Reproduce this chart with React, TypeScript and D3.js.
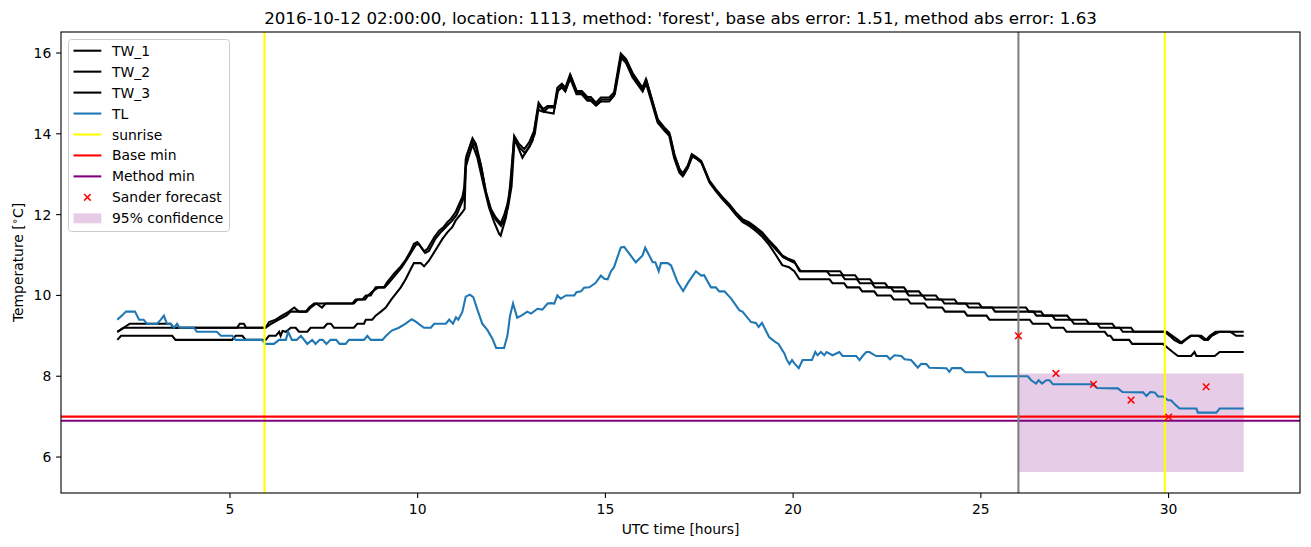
import React from "react";
import * as d3 from "d3";

// ---------------- data ----------------
const xTicks = [5, 10, 15, 20, 25, 30];
const yTicks = [6, 8, 10, 12, 14, 16];

const tw1: [number, number][] = [
  [2.0,9.1],[2.17,9.2],[2.33,9.3],[3.42,9.3],[3.5,9.2],[5.19,9.2],[5.26,9.3],[5.37,9.3],[5.43,9.2],[5.95,9.2],
  [6.04,9.34],[6.22,9.4],[6.35,9.48],[6.57,9.6],[6.71,9.7],[6.84,9.6],[7.02,9.6],[7.11,9.7],[7.24,9.8],[8.26,9.8],
  [8.35,9.9],[8.53,9.9],[8.62,10.0],[8.75,10.0],[8.88,10.2],[9.1,10.2],[9.19,10.33],[9.37,10.54],[9.55,10.72],[9.68,10.88],
  [9.82,11.11],[9.9,11.28],[9.99,11.32],[10.17,11.09],[10.26,11.15],[10.44,11.44],[10.57,11.6],[10.7,11.7],[10.79,11.81],[10.88,11.89],
  [11.01,12.06],[11.1,12.25],[11.19,12.44],[11.24,12.67],[11.28,13.37],[11.46,13.89],[11.55,13.75],[11.68,13.25],[11.81,12.59],[11.95,12.14],
  [12.08,11.93],[12.21,11.79],[12.3,11.98],[12.39,12.26],[12.48,12.75],[12.57,13.95],[12.7,13.75],[12.84,13.62],[12.97,13.79],[13.1,14.07],
  [13.22,14.77],[13.34,14.61],[13.46,14.69],[13.64,14.69],[13.72,15.14],[13.84,15.24],[13.93,15.14],[14.06,15.47],[14.23,15.06],[14.37,15.06],
  [14.52,14.91],[14.61,14.91],[14.75,14.77],[14.88,14.9],[15.1,14.9],[15.23,15.02],[15.41,15.99],[15.55,15.85],[15.72,15.51],[15.99,15.14],
  [16.08,15.35],[16.21,14.94],[16.39,14.36],[16.57,14.16],[16.7,14.03],[16.83,13.5],[16.97,13.13],[17.06,13.02],[17.19,13.21],[17.3,13.5],
  [17.44,13.41],[17.55,13.33],[17.77,12.84],[17.94,12.63],[18.12,12.43],[18.3,12.26],[18.47,12.06],[18.65,11.89],[18.83,11.81],[19.0,11.69],
  [19.18,11.56],[19.36,11.36],[19.54,11.19],[19.71,10.99],[19.89,10.9],[20.03,10.85],[20.17,10.6],[21.25,10.6],[21.33,10.5],[21.65,10.5],
  [21.73,10.4],[22.05,10.4],[22.13,10.3],[22.45,10.3],[22.53,10.2],[22.95,10.2],[23.03,10.1],[23.35,10.1],[23.43,10.0],[23.8,10.0],
  [23.88,9.9],[24.3,9.9],[24.38,9.8],[24.95,9.8],[25.03,9.7],[26.2,9.7],[26.28,9.6],[26.6,9.6],[26.68,9.5],[27.3,9.5],
  [27.38,9.4],[27.8,9.4],[27.88,9.3],[28.5,9.3],[28.58,9.2],[29.0,9.2],[29.08,9.1],[29.9,9.1],[30.03,9.0],[30.15,8.9],
  [30.3,8.82],[30.43,8.9],[30.58,9.0],[30.87,9.0],[31.0,8.9],[31.1,9.0],[31.25,9.1],[32.0,9.1],
];

const tw2: [number, number][] = [
  [2.0,9.1],[2.17,9.2],[5.95,9.2],[6.1,9.3],[6.3,9.4],[6.5,9.5],[6.62,9.6],[7.05,9.6],[7.15,9.7],[7.3,9.8],
  [7.45,9.7],[7.55,9.8],[8.3,9.8],[8.4,9.9],[8.6,9.9],[8.68,10.0],[8.8,10.1],[8.95,10.2],[9.12,10.2],[9.22,10.3],
  [9.4,10.5],[9.58,10.7],[9.72,10.9],[9.85,11.1],[9.95,11.25],[10.03,11.28],[10.2,11.05],[10.3,11.1],[10.47,11.4],[10.6,11.55],
  [10.72,11.66],[10.82,11.76],[10.92,11.85],[11.04,12.0],[11.13,12.2],[11.22,12.4],[11.26,12.8],[11.3,13.45],[11.44,13.82],[11.55,13.68],
  [11.7,13.15],[11.83,12.5],[11.97,12.05],[12.1,11.85],[12.22,11.72],[12.32,11.9],[12.41,12.2],[12.5,12.7],[12.58,13.85],[12.72,13.65],
  [12.86,13.52],[12.99,13.7],[13.12,14.0],[13.23,14.72],[13.36,14.55],[13.48,14.65],[13.65,14.65],[13.74,15.08],[13.86,15.2],[13.95,15.1],
  [14.08,15.42],[14.25,15.02],[14.39,15.0],[14.54,14.86],[14.63,14.85],[14.77,14.72],[14.9,14.85],[15.12,14.85],[15.25,14.98],[15.43,15.92],
  [15.57,15.8],[15.74,15.45],[16.0,15.08],[16.1,15.3],[16.23,14.88],[16.41,14.3],[16.59,14.1],[16.72,13.97],[16.85,13.44],[16.99,13.08],
  [17.08,12.98],[17.2,13.17],[17.32,13.45],[17.46,13.36],[17.57,13.28],[17.79,12.78],[17.96,12.58],[18.14,12.38],[18.32,12.2],[18.49,12.0],
  [18.67,11.85],[18.85,11.76],[19.02,11.64],[19.2,11.5],[19.38,11.3],[19.56,11.12],[19.73,10.95],[19.91,10.86],[20.05,10.8],[20.2,10.6],
  [20.9,10.6],[20.98,10.5],[21.3,10.5],[21.38,10.4],[21.7,10.4],[21.78,10.3],[22.1,10.3],[22.18,10.2],[22.6,10.2],[22.68,10.1],
  [23.0,10.1],[23.08,10.0],[23.45,10.0],[23.53,9.9],[23.95,9.9],[24.03,9.8],[24.6,9.8],[24.68,9.7],[25.3,9.7],[25.38,9.6],
  [26.4,9.6],[26.48,9.5],[26.9,9.5],[26.98,9.4],[27.4,9.4],[27.48,9.3],[28.1,9.3],[28.18,9.2],[28.7,9.2],[28.78,9.1],
  [29.95,9.1],[30.1,9.0],[30.25,8.9],[30.35,8.82],[30.45,8.9],[30.6,9.0],[30.8,9.0],[30.95,8.9],[31.05,8.9],[31.15,9.0],
  [31.35,9.1],[31.65,9.1],[31.8,9.0],[32.0,9.0],
];

const tw3: [number, number][] = [
  [2.0,8.9],[2.1,9.0],[3.46,9.0],[3.55,8.9],[5.06,8.9],[5.15,9.0],[5.33,9.0],[5.42,8.9],[5.95,8.9],[6.04,9.0],
  [6.22,9.0],[6.31,9.1],[6.35,9.0],[6.4,9.12],[6.49,9.1],[6.62,9.2],[6.75,9.2],[6.84,9.1],[7.06,9.1],[7.15,9.2],
  [7.5,9.2],[7.59,9.3],[7.69,9.3],[7.77,9.2],[8.3,9.2],[8.39,9.3],[8.57,9.3],[8.62,9.4],[8.79,9.4],[8.88,9.5],
  [9.02,9.6],[9.15,9.7],[9.3,9.9],[9.55,10.2],[9.68,10.4],[9.82,10.66],[9.9,10.8],[10.08,10.8],[10.17,10.72],[10.3,10.86],
  [10.44,11.07],[10.66,11.4],[10.79,11.56],[10.92,11.69],[11.01,11.85],[11.19,12.06],[11.25,12.14],[11.28,13.17],[11.35,13.41],[11.46,13.73],
  [11.59,13.41],[11.77,12.67],[11.9,12.18],[12.04,11.81],[12.17,11.52],[12.21,11.48],[12.35,11.93],[12.43,12.39],[12.57,13.9],[12.79,13.41],
  [13.06,13.83],[13.2,14.6],[13.32,14.55],[13.62,14.5],[13.72,15.05],[13.84,15.15],[13.93,15.05],[14.06,15.38],[14.23,14.98],[14.37,14.98],
  [14.52,14.82],[14.61,14.82],[14.75,14.7],[14.88,14.8],[15.1,14.8],[15.23,14.95],[15.41,15.9],[15.55,15.75],[15.72,15.4],[15.99,15.05],
  [16.08,15.25],[16.21,14.85],[16.39,14.28],[16.57,14.08],[16.7,13.95],[16.83,13.4],[16.97,13.04],[17.06,12.95],[17.19,13.15],[17.3,13.45],
  [17.44,13.38],[17.55,13.3],[17.77,12.8],[17.94,12.58],[18.12,12.38],[18.3,12.2],[18.47,12.0],[18.65,11.82],[18.83,11.72],[19.0,11.6],
  [19.18,11.45],[19.36,11.25],[19.54,11.0],[19.71,10.75],[19.89,10.7],[20.03,10.6],[20.17,10.4],[20.97,10.4],[21.05,10.3],[21.36,10.3],
  [21.44,10.2],[21.76,10.2],[21.84,10.1],[22.16,10.1],[22.24,10.0],[22.6,10.0],[22.68,9.9],[23.05,9.9],[23.13,9.8],[23.5,9.8],
  [23.58,9.7],[23.97,9.7],[24.05,9.6],[24.56,9.6],[24.64,9.5],[25.15,9.5],[25.23,9.4],[26.3,9.4],[26.38,9.3],[26.8,9.3],
  [26.88,9.2],[27.2,9.2],[27.28,9.1],[28.3,9.1],[28.38,9.0],[28.45,9.0],[28.53,8.9],[28.95,8.9],[29.03,8.8],[29.85,8.8],
  [29.98,8.7],[30.11,8.6],[30.25,8.5],[30.6,8.5],[30.69,8.6],[30.74,8.5],[31.23,8.5],[31.36,8.6],[32.0,8.6],
];

const tl: [number, number][] = [
  [2.0,9.4],[2.12,9.5],[2.23,9.6],[2.47,9.6],[2.58,9.4],[2.7,9.4],[2.79,9.3],[3.06,9.3],[3.16,9.4],[3.24,9.5],
  [3.32,9.3],[3.42,9.3],[3.51,9.2],[3.59,9.3],[3.66,9.2],[4.04,9.2],[4.12,9.1],[4.65,9.1],[4.76,9.0],[5.06,9.0],
  [5.15,8.9],[5.85,8.9],[5.95,8.8],[6.17,8.8],[6.31,8.9],[6.49,8.9],[6.55,9.1],[6.65,8.9],[6.78,8.9],[6.89,9.0],
  [7.06,8.8],[7.19,8.9],[7.28,8.8],[7.39,8.9],[7.47,8.9],[7.57,8.8],[7.68,8.9],[7.83,8.9],[7.92,8.8],[8.08,8.8],
  [8.17,8.9],[8.57,8.9],[8.66,9.0],[8.75,8.9],[9.06,8.9],[9.16,9.0],[9.31,9.13],[9.5,9.2],[9.68,9.3],[9.84,9.41],
  [9.95,9.35],[10.08,9.26],[10.17,9.2],[10.35,9.2],[10.44,9.3],[10.75,9.3],[10.84,9.4],[10.94,9.3],[11.02,9.46],[11.08,9.4],
  [11.19,9.59],[11.28,9.97],[11.39,10.02],[11.48,9.96],[11.59,9.65],[11.72,9.3],[11.86,9.14],[11.99,8.93],[12.09,8.7],[12.3,8.7],
  [12.39,9.0],[12.46,9.5],[12.54,9.8],[12.65,9.45],[12.76,9.5],[12.92,9.6],[13.02,9.55],[13.19,9.67],[13.32,9.65],[13.46,9.8],
  [13.55,9.81],[13.64,9.8],[13.72,10.0],[13.81,9.92],[13.95,10.0],[14.17,10.0],[14.23,10.08],[14.35,10.1],[14.43,10.19],[14.57,10.2],
  [14.73,10.3],[14.88,10.49],[14.97,10.41],[15.06,10.4],[15.15,10.6],[15.23,10.7],[15.41,11.19],[15.5,11.2],[15.81,10.82],[15.99,10.99],
  [16.06,11.18],[16.26,10.82],[16.33,10.82],[16.42,10.6],[16.48,10.8],[16.66,10.8],[16.75,10.74],[16.92,10.33],[17.07,10.11],[17.21,10.33],
  [17.41,10.6],[17.55,10.49],[17.63,10.5],[17.81,10.2],[17.94,10.2],[18.03,10.1],[18.17,10.1],[18.35,9.92],[18.57,9.63],[18.65,9.6],
  [18.88,9.34],[19.01,9.32],[19.08,9.22],[19.17,9.32],[19.36,8.97],[19.52,8.85],[19.61,8.8],[19.77,8.56],[19.83,8.41],[19.9,8.3],
  [19.97,8.4],[20.05,8.3],[20.15,8.2],[20.25,8.4],[20.5,8.4],[20.59,8.6],[20.65,8.52],[20.74,8.6],[20.83,8.52],[20.89,8.6],
  [21.05,8.52],[21.23,8.6],[21.32,8.5],[21.68,8.5],[21.77,8.4],[21.85,8.5],[21.95,8.6],[22.03,8.6],[22.21,8.5],[22.5,8.5],
  [22.58,8.42],[22.7,8.52],[22.88,8.5],[22.97,8.42],[23.14,8.4],[23.23,8.31],[23.32,8.21],[23.41,8.31],[23.55,8.3],[23.63,8.21],
  [24.08,8.2],[24.16,8.11],[24.23,8.2],[24.47,8.2],[24.59,8.1],[25.1,8.1],[25.18,8.0],[26.25,8.0],[26.34,7.9],[26.47,7.82],
  [26.54,7.9],[26.63,7.82],[26.74,7.9],[26.83,7.9],[26.92,7.8],[27.98,7.8],[28.09,7.71],[28.65,7.7],[28.77,7.61],[29.32,7.6],
  [29.41,7.51],[29.51,7.61],[29.63,7.6],[29.72,7.5],[29.85,7.5],[29.98,7.41],[30.07,7.4],[30.16,7.31],[30.29,7.2],[30.74,7.2],
  [30.78,7.1],[31.27,7.1],[31.36,7.2],[32.0,7.2],
];

const sunriseTimes = [5.92, 29.9];
const forecastStart = 26.0;
const baseMin = 7.0;
const methodMin = 6.9;
const forecastHours = [26, 27, 28, 29, 30, 31];
const forecastValues = [9.0, 8.07, 7.8, 7.41, 6.99, 7.74];
const confHours = [26, 32];
const confLower = [5.63, 5.63];
const confUpper = [8.07, 8.07];

const legendLabels = ["TW_1", "TW_2", "TW_3", "TL", "sunrise", "Base min", "Method min", "Sander forecast", "95% confidence"];

const titleText = "2016-10-12 02:00:00, location: 1113, method: 'forest', base abs error: 1.51, method abs error: 1.63";

// ---------------- layout ----------------
const W = 1311;
const H = 547;
const L = 61, R = 1300, T = 32, B = 493;
const FONT = "'DejaVu Sans', sans-serif";
const TL_COLOR = "#1f77b4";

export default function App() {
  const x = d3.scaleLinear().domain([0.5, 33.5]).range([L, R]);
  const y = d3.scaleLinear().domain([5.11, 16.52]).range([B, T]);
  const line = d3.line<[number, number]>().x((d) => x(d[0])).y((d) => y(d[1]));
  const area = d3
    .area<number>()
    .x((_, i) => x(confHours[i]))
    .y0((_, i) => y(confLower[i]))
    .y1((_, i) => y(confUpper[i]));

  const lw = 2.08;
  const ms = 3.3;

  const legendX = 68.5, legendY = 39.5, legendW = 161, legendH = 192;
  const rowY = (i: number) => 50.7 + i * 20.95;
  const hx0 = 73.5, hx1 = 101.3, tx = 112;

  const xMark = (cx: number, cy: number, key: string) => (
    <g key={key} stroke="red" strokeWidth={1.5}>
      <line x1={cx - ms} y1={cy - ms} x2={cx + ms} y2={cy + ms} />
      <line x1={cx - ms} y1={cy + ms} x2={cx + ms} y2={cy - ms} />
    </g>
  );

  return (
    <svg
      width={W}
      height={H}
      style={{ position: "absolute", left: 0, top: 0, background: "white" }}
      fontFamily={FONT}
    >
      <rect x={0} y={0} width={W} height={H} fill="white" />
      <defs>
        <clipPath id="plotclip">
          <rect x={L} y={T} width={R - L} height={B - T} />
        </clipPath>
      </defs>
      <g clipPath="url(#plotclip)">
        <path d={area([0, 1]) || ""} fill="purple" fillOpacity={0.2} stroke="none" />
        <path d={line(tw1) || ""} fill="none" stroke="black" strokeWidth={lw} />
        <path d={line(tw2) || ""} fill="none" stroke="black" strokeWidth={lw} />
        <path d={line(tw3) || ""} fill="none" stroke="black" strokeWidth={lw} />
        <path d={line(tl) || ""} fill="none" stroke={TL_COLOR} strokeWidth={lw} />
        {sunriseTimes.map((s, i) => (
          <line key={"s" + i} x1={x(s)} x2={x(s)} y1={T} y2={B} stroke="yellow" strokeWidth={lw} />
        ))}
        <line x1={L} x2={R} y1={y(baseMin)} y2={y(baseMin)} stroke="red" strokeWidth={lw} />
        <line x1={L} x2={R} y1={y(methodMin)} y2={y(methodMin)} stroke="purple" strokeWidth={lw} />
        <line x1={x(forecastStart)} x2={x(forecastStart)} y1={T} y2={B} stroke="gray" strokeWidth={lw} />
        {forecastHours.map((h, i) => xMark(x(h), y(forecastValues[i]), "f" + i))}
      </g>

      {/* axes frame */}
      <rect x={L} y={T} width={R - L} height={B - T} fill="none" stroke="black" strokeWidth={1.1} />

      {/* x ticks */}
      {xTicks.map((t) => (
        <g key={"xt" + t}>
          <line x1={x(t)} x2={x(t)} y1={B} y2={B + 4.9} stroke="black" strokeWidth={1.1} />
          <text x={x(t)} y={513.5} fontSize={13.9} textAnchor="middle" fill="black">
            {t}
          </text>
        </g>
      ))}
      {/* y ticks */}
      {yTicks.map((t) => (
        <g key={"yt" + t}>
          <line x1={L - 4.9} x2={L} y1={y(t)} y2={y(t)} stroke="black" strokeWidth={1.1} />
          <text x={L - 9.7} y={y(t) + 5} fontSize={13.9} textAnchor="end" fill="black">
            {t}
          </text>
        </g>
      ))}

      <text x={(L + R) / 2} y={534} fontSize={13.9} textAnchor="middle" fill="black">
        UTC time [hours]
      </text>
      <text transform={`translate(22.5, ${(T + B) / 2}) rotate(-90)`} fontSize={13.9} textAnchor="middle" fill="black">
        <tspan>Temperature [</tspan>
        <tspan dy={-5} fontSize={10}>∘</tspan>
        <tspan dy={5}>C]</tspan>
      </text>
      <text x={(L + R) / 2} y={23.5} fontSize={16.7} textAnchor="middle" fill="black">
        {titleText}
      </text>

      {/* legend */}
      <rect x={legendX} y={legendY} width={legendW} height={legendH} rx={3} fill="white" fillOpacity={0.8} stroke="#cccccc" strokeWidth={1} />
      {legendLabels.map((lab, i) => {
        const cy = rowY(i);
        let handle: React.ReactNode = null;
        const colors = ["black", "black", "black", TL_COLOR, "yellow", "red", "purple"];
        if (i < 7) {
          handle = <line x1={hx0} x2={hx1} y1={cy} y2={cy} stroke={colors[i]} strokeWidth={lw} />;
        } else if (i === 7) {
          handle = xMark((hx0 + hx1) / 2, cy, "lm");
        } else {
          handle = <rect x={hx0} y={cy - 5} width={hx1 - hx0} height={10} fill="purple" fillOpacity={0.2} />;
        }
        return (
          <g key={"lg" + i}>
            {handle}
            <text x={tx} y={cy + 5} fontSize={13.9} fill="black">
              {lab}
            </text>
          </g>
        );
      })}
    </svg>
  );
}
